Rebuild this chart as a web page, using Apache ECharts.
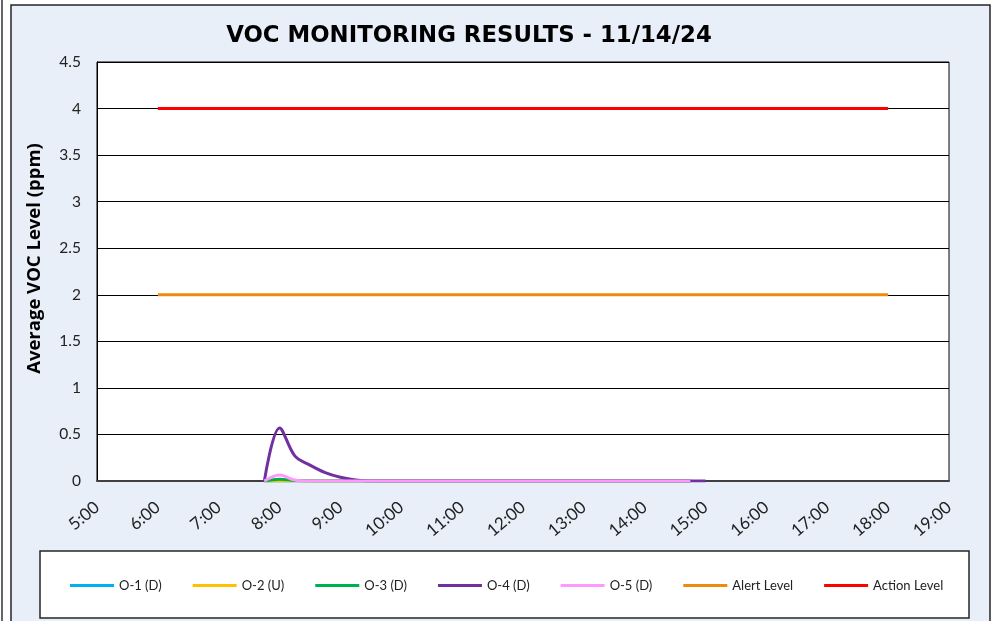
<!DOCTYPE html>
<html>
<head>
<meta charset="utf-8">
<script src="https://cdn.jsdelivr.net/npm/echarts@6/dist/echarts.min.js"></script>
<style>html,body{margin:0;padding:0;background:#fff;}#c{width:1002px;height:621px;}</style>
</head>
<body>
<div id="c"></div>
<script>
// ---- data ----
const title = 'VOC MONITORING RESULTS - 11/14/24';
const yAxisName = 'Average VOC Level (ppm)';
const xTicks = ['5:00','6:00','7:00','8:00','9:00','10:00','11:00','12:00','13:00','14:00','15:00','16:00','17:00','18:00','19:00'];
const times = ['7:45','8:00','8:15','8:30','8:45','9:00','9:15','9:30','9:45','10:00','10:15','10:30','10:45','11:00','11:15','11:30','11:45','12:00','12:15','12:30','12:45','13:00','13:15','13:30','13:45','14:00','14:15','14:30','14:45','15:00'];
const o1 = [0,0,0,0,0,0,0,0,0,0,0,0,0,0,0,0,0,0,0,0,0,0,0,0,0,0,0,0,0];
const o2 = [0,0,0,0,0,0,0,0,0,0,0,0,0,0,0,0,0,0,0,0,0,0,0,0,0,0,0,0,0];
const o3 = [0,0.02,0.005,0,0,0,0,0,0,0,0,0,0,0,0,0,0,0,0,0,0,0,0,0,0,0,0,0,0];
const o4 = [0,0.57,0.27,0.17,0.09,0.04,0.01,0,0,0,0,0,0,0,0,0,0,0,0,0,0,0,0,0,0,0,0,0,0,0];
const o5 = [0,0.065,0.01,0,0,0,0,0,0,0,0,0,0,0,0,0,0,0,0,0,0,0,0,0,0,0,0,0,0];
const levelTimes = ['6:00','18:00'];
const alertLevel = [2,2];
const actionLevel = [4,4];
const seriesNames = ['O-1 (D)','O-2 (U)','O-3 (D)','O-4 (D)','O-5 (D)','Alert Level','Action Level'];

function hrs(t){const p=t.split(':');return +p[0] + (+p[1])/60;}
function pairs(ts, vs){return vs.map((v,i)=>[hrs(ts[i]), v]);}

const colors = ['#00B0F0','#FFC000','#00B050','#7030A0','#FF99FF','#EE8A0E','#FF0000'];
const seriesData = [pairs(times,o1),pairs(times,o2),pairs(times,o3),pairs(times,o4),pairs(times,o5),pairs(levelTimes,alertLevel),pairs(levelTimes,actionLevel)];

const chart = echarts.init(document.getElementById('c'), null, {renderer:'canvas'});
const FONT = 'Lato';
chart.setOption({
  animation: false,
  backgroundColor: '#ffffff',
  graphic: [
    {type:'line', z:-20, silent:true, shape:{x1:2,y1:0,x2:2,y2:621}, style:{stroke:'#333',lineWidth:1.5}},
    {type:'rect', z:-20, silent:true, shape:{x:11,y:5,width:979,height:630}, style:{fill:'#E8EFF8',stroke:'#262626',lineWidth:1.5}},
    {type:'rect', z:-10, silent:true, shape:{x:40,y:551,width:929,height:67}, style:{fill:'#ffffff',stroke:'#262626',lineWidth:1.5}}
  ],
  title: {
    text: title, left: 464, top: 20, textAlign: 'center',
    textStyle: {fontFamily:'DejaVu Sans', fontWeight:'bold', fontSize:22.8, color:'#000'}
  },
  legend: {
    left: 65, top: 574, itemWidth: 44, itemHeight: 3, itemGap: 31, icon: 'rect',
    data: seriesNames,
    textStyle: {fontFamily: FONT, fontSize: 13, color:'#222'}
  },
  grid: {left:97, right:53, top:62, bottom:140, show:true, backgroundColor:'#ffffff', borderColor:'#000', borderWidth:1, containLabel:false},
  xAxis: {
    type:'value', min:5, max:19, interval:1,
    axisLine:{show:true, onZero:false, lineStyle:{color:'#404040', width:2}},
    axisTick:{show:false},
    splitLine:{show:false},
    axisLabel:{rotate:40, margin:24, fontFamily:FONT, fontSize:17, color:'#222',
      formatter:(v)=>xTicks[Math.round(v-5)]}
  },
  yAxis: {
    type:'value', min:0, max:4.5, interval:0.5,
    name: yAxisName, nameLocation:'middle', nameGap:53, nameRotate:90,
    nameTextStyle:{fontFamily:'Open Sans', fontWeight:'bold', fontSize:18.5, color:'#000', padding:[0,0,0,26]},
    axisLine:{show:true, lineStyle:{color:'#000', width:1}},
    axisTick:{show:false},
    splitLine:{show:true, lineStyle:{color:'#000', width:1}},
    axisLabel:{margin:16, fontFamily:FONT, fontSize:15.5, color:'#222'}
  },
  series: seriesNames.map((n,i)=>({
    name:n, type:'line', data:seriesData[i], symbol:'none',
    smooth: i<5 ? 0.35 : false,
    color: colors[i],
    lineStyle:{color:colors[i], width:3},
    z: 2 + i
  }))
});
</script>
</body>
</html>
